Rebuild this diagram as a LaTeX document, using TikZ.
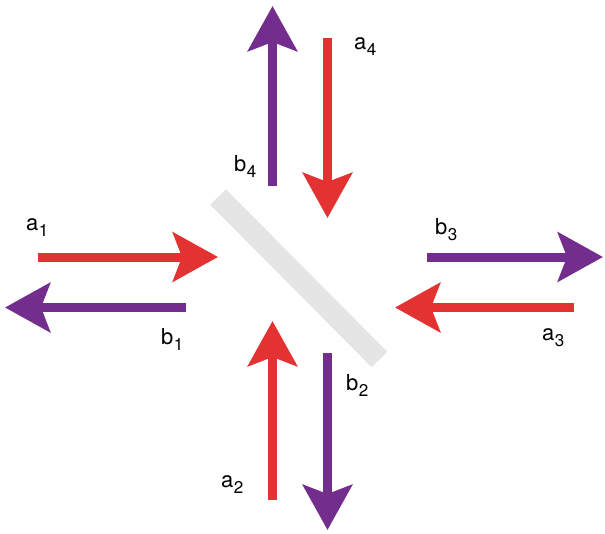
\documentclass[tikz,border=0pt]{standalone}
\usepackage{fontspec}
\setmainfont{TeX Gyre Heros}
\usetikzlibrary{arrows.meta}
\definecolor{myred}{RGB}{226,50,50}
\definecolor{mypurple}{RGB}{115,45,140}
\definecolor{bargray}{RGB}{229,229,229}
\newcommand{\lbl}[2]{#1\kern0.5pt\raisebox{-6pt}{\fontsize{17}{17}\selectfont #2}}
\begin{document}
\begin{tikzpicture}[x=1pt,y=-1pt,
  beam/.style={line width=9pt,-{Stealth[length=45pt,width=49pt,inset=9pt]}},
  redbeam/.style={beam,draw=myred,fill=myred},
  purplebeam/.style={beam,draw=mypurple,fill=mypurple},
  lab/.style={anchor=base west,inner sep=0pt,font=\fontsize{22}{24}\selectfont}]
\useasboundingbox (0,0) rectangle (605,533);
% beam splitter
\coordinate (bs1) at (218,197);
\coordinate (bs2) at (379.5,359.5);
\draw[bargray,line width=22pt] (bs1) -- (bs2);
% coordinates
\coordinate (a1s) at (38,257);   \coordinate (a1e) at (218,257);
\coordinate (b1s) at (186,307.5);\coordinate (b1e) at (5,307.5);
\coordinate (a2s) at (272.5,500);\coordinate (a2e) at (272.5,321);
\coordinate (b2s) at (327.5,353);\coordinate (b2e) at (327.5,530);
\coordinate (a3s) at (574,307.5);\coordinate (a3e) at (395,307.5);
\coordinate (b3s) at (427,257);  \coordinate (b3e) at (603,257);
\coordinate (a4s) at (327.5,38); \coordinate (a4e) at (327.5,218);
\coordinate (b4s) at (272.5,186);\coordinate (b4e) at (272.5,6);
\draw[redbeam] (a1s) -- (a1e);
\draw[purplebeam] (b1s) -- (b1e);
\draw[redbeam] (a2s) -- (a2e);
\draw[purplebeam] (b2s) -- (b2e);
\draw[redbeam] (a3s) -- (a3e);
\draw[purplebeam] (b3s) -- (b3e);
\draw[redbeam] (a4s) -- (a4e);
\draw[purplebeam] (b4s) -- (b4e);
% labels
\node[lab] (la1) at (26,230) {\lbl{a}{1}};
\node[lab] (lb1) at (161,344) {\lbl{b}{1}};
\node[lab] (la2) at (221,487) {\lbl{a}{2}};
\node[lab] (lb2) at (346,390) {\lbl{b}{2}};
\node[lab] (la3) at (542,340) {\lbl{a}{3}};
\node[lab] (lb3) at (435,234) {\lbl{b}{3}};
\node[lab] (la4) at (354,49) {\lbl{a}{4}};
\node[lab] (lb4) at (234,171) {\lbl{b}{4}};
\end{tikzpicture}
\end{document}
